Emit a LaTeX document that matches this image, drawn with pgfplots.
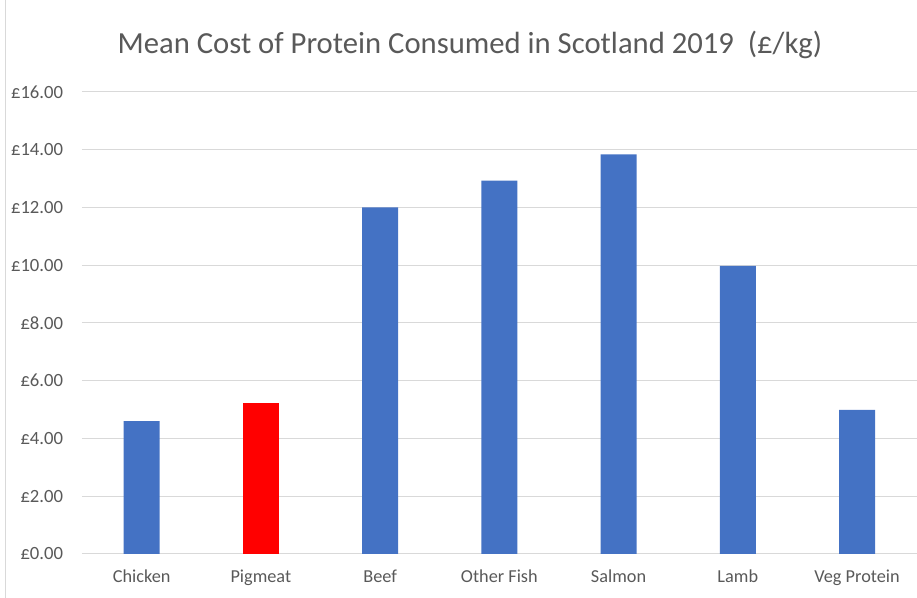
\documentclass[border=0pt]{standalone}
\usepackage{fontspec}
\setmainfont{Carlito}
\usepackage{pgfplots}
\pgfplotsset{compat=1.18}
\definecolor{barblue}{HTML}{4472C4}
\definecolor{barred}{HTML}{FF0000}
\definecolor{gridgrey}{HTML}{D9D9D9}
\definecolor{labgrey}{HTML}{595959}
\begin{document}
\begin{tikzpicture}[x=1pt,y=1pt]
\useasboundingbox (-61.5,-33) rectangle (626.25,415.5);
\draw[gridgrey, line width=0.75pt] (-57,-33) -- (-57,415.5);
\begin{axis}[
  at={(0,0)}, anchor=south west,
  scale only axis, width=626pt, height=346.5pt,
  xmin=-0.5, xmax=6.5, ymin=0, ymax=16,
  axis line style={draw=none},
  major tick length=0pt,
  ymajorgrids, grid style={gridgrey, line width=0.75pt},
  ytick={0,2,...,16},
  yticklabel={£\pgfmathprintnumber[fixed,fixed zerofill,precision=2]{\tick}},
  /pgf/number format/assume math mode=true,
  yticklabel style={anchor=east, inner sep=0pt, xshift=-14pt, font=\fontsize{14}{16}\selectfont, text=labgrey},
  xtick={0,1,2,3,4,5,6},
  xticklabels={Chicken, Pigmeat, Beef, Other Fish, Salmon, Lamb, Veg Protein},
  xticklabel style={anchor=base, inner sep=0pt, yshift=-21.75pt, font=\fontsize{13.7}{16}\selectfont, text=labgrey},
  ybar, bar width=27pt, bar shift=0pt,
  clip=false,
]
\addplot[fill=barblue, draw=none] coordinates {(0,4.60) (2,12.00) (3,12.93) (4,13.84) (5,9.98) (6,4.99)};
\addplot[fill=barred, draw=none] coordinates {(1,5.24)};
\end{axis}
\node[text=labgrey, font=\fontsize{23}{27}\selectfont] at (291,381.75) {Mean Cost of Protein Consumed in Scotland 2019 \ (£/kg)};
\end{tikzpicture}
\end{document}
